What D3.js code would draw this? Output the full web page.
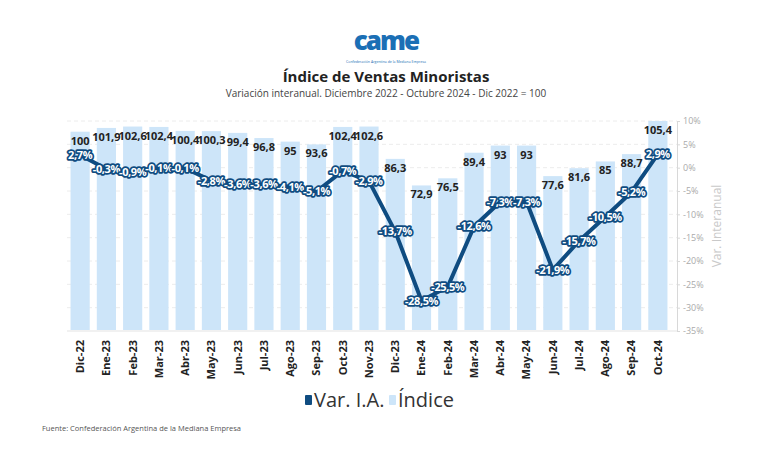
<!DOCTYPE html>
<html><head><meta charset="utf-8">
<script src="https://cdn.jsdelivr.net/npm/d3@7"></script>
<style>body{margin:0;background:#fff}svg{display:block;font-family:"Open Sans",sans-serif}</style>
</head><body><svg id="c" width="772" height="454"></svg>
<script>
const months = ["Dic-22","Ene-23","Feb-23","Mar-23","Abr-23","May-23","Jun-23","Jul-23","Ago-23","Sep-23","Oct-23","Nov-23","Dic-23","Ene-24","Feb-24","Mar-24","Abr-24","May-24","Jun-24","Jul-24","Ago-24","Sep-24","Oct-24"];
const indice = [100,101.9,102.6,102.4,100.4,100.3,99.4,96.8,95,93.6,102.4,102.6,86.3,72.9,76.5,89.4,93,93,77.6,81.6,85,88.7,105.4];
const varIA = [2.7,-0.3,-0.9,-0.1,-0.1,-2.8,-3.6,-3.6,-4.1,-5.1,-0.7,-2.9,-13.7,-28.5,-25.5,-12.6,-7.3,-7.3,-21.9,-15.7,-10.5,-5.2,2.9];
const pctTicks = [10,5,0,-5,-10,-15,-20,-25,-30,-35];

const svg = d3.select("#c");
const fmt = v => String(v).replace(".", ",");
const dark = "#0f4c81", light = "#cde5f9";

const x = d3.scaleBand().domain(months).range([67, 671]).paddingInner(0.27).paddingOuter(0.135);
const yB = d3.scaleLinear().domain([0, 110]).range([330, 330 - 110 * 1.983]);
const yP = d3.scaleLinear().domain([-35, 10]).range([331, 121]);

// grid
svg.append("g").selectAll("line").data(pctTicks).join("line")
  .attr("x1", 67).attr("x2", 677).attr("y1", d => yP(d)).attr("y2", d => yP(d))
  .attr("stroke", d => d === -35 ? "#e3e3e3" : "#ececec").attr("stroke-dasharray", d => d === -35 ? null : "4,3");

// bars
svg.append("g").selectAll("rect").data(indice).join("rect")
  .attr("x", (d, i) => x(months[i])).attr("width", x.bandwidth())
  .attr("y", d => yB(d)).attr("height", d => yB(0) - yB(d)).attr("fill", light);

// right axis
const ax = svg.append("g").attr("transform", "translate(677,0)")
  .call(d3.axisRight(yP).tickValues(pctTicks).tickSize(3).tickFormat(d => d + "%"));
ax.select(".domain").attr("stroke", "#d8d8d8");
ax.selectAll(".tick line").attr("stroke", "#d8d8d8");
ax.selectAll("text").attr("fill", "#aaa").attr("font-size", 9).attr("font-family", "Open Sans");
svg.append("text").attr("transform", "translate(721,226) rotate(-90)").attr("text-anchor", "middle")
  .attr("fill", "#c9c9c9").attr("font-size", 12).text("Var. Interanual");

// x axis labels
const xa = svg.append("g").attr("transform", "translate(0,334)")
  .call(d3.axisBottom(x).tickSize(0).tickPadding(0));
xa.select(".domain").remove();
xa.selectAll("text").attr("transform", "rotate(-90)").attr("text-anchor", "end")
  .attr("x", -6).attr("dy", "0.35em").attr("y", 0)
  .attr("fill", "#222").attr("font-weight", 700).attr("font-size", 11).attr("font-family", "Open Sans");

// bar labels
svg.append("g").selectAll("text").data(indice).join("text")
  .attr("x", (d, i) => x(months[i]) + x.bandwidth() / 2).attr("y", d => yB(d) + 13)
  .attr("text-anchor", "middle").attr("font-weight", 700).attr("font-size", 11).attr("fill", "#222")
  .text(d => fmt(d));

// line
const cx = i => x(months[i]) + x.bandwidth() / 2;
svg.append("path").datum(varIA)
  .attr("d", d3.line().x((d, i) => cx(i)).y(d => yP(d)))
  .attr("fill", "none").attr("stroke", dark).attr("stroke-width", 4).attr("stroke-linejoin", "round");

svg.append("g").selectAll("text").data(varIA).join("text")
  .attr("x", (d, i) => cx(i)).attr("y", d => yP(d)).attr("dy", "0.35em")
  .attr("text-anchor", "middle").attr("font-weight", 700).attr("font-size", 11)
  .attr("fill", "#fff").attr("stroke", dark).attr("stroke-width", 3.5).attr("paint-order", "stroke")
  .attr("stroke-linejoin", "round").attr("letter-spacing", -0.4)
  .text(d => fmt(d) + "%");

// logo
svg.append("text").attr("x", 386).attr("y", 50).attr("text-anchor", "middle")
  .attr("font-size", 26).attr("font-weight", 800).attr("fill", "#1b6fb5").attr("letter-spacing", -2).text("came");
svg.append("text").attr("x", 386).attr("y", 63).attr("text-anchor", "middle")
  .attr("font-size", 3.5).attr("fill", "#1b6fb5").text("Confederación Argentina de la Mediana Empresa");

// titles
svg.append("text").attr("x", 386).attr("y", 82).attr("text-anchor", "middle")
  .attr("font-size", 15).attr("font-weight", 700).attr("fill", "#222").text("Índice de Ventas Minoristas");
svg.append("text").attr("x", 386).attr("y", 97).attr("text-anchor", "middle")
  .attr("font-size", 10).attr("fill", "#444").text("Variación interanual. Diciembre 2022 - Octubre 2024 - Dic 2022 = 100");

// legend
const leg = [{t: "Var. I.A.", c: dark, x: 305}, {t: "Índice", c: light, x: 389}];
const lg = svg.append("g").selectAll("g").data(leg).join("g");
lg.append("rect").attr("x", d => d.x).attr("y", 395).attr("width", 7).attr("height", 10).attr("rx", 1).attr("fill", d => d.c);
lg.append("text").attr("x", d => d.x + 9).attr("y", 407).attr("font-size", 20).attr("fill", "#333").text(d => d.t);

// source
svg.append("text").attr("x", 42).attr("y", 431).attr("font-size", 7.5).attr("fill", "#555")
  .text("Fuente: Confederación Argentina de la Mediana Empresa");
</script></body></html>
